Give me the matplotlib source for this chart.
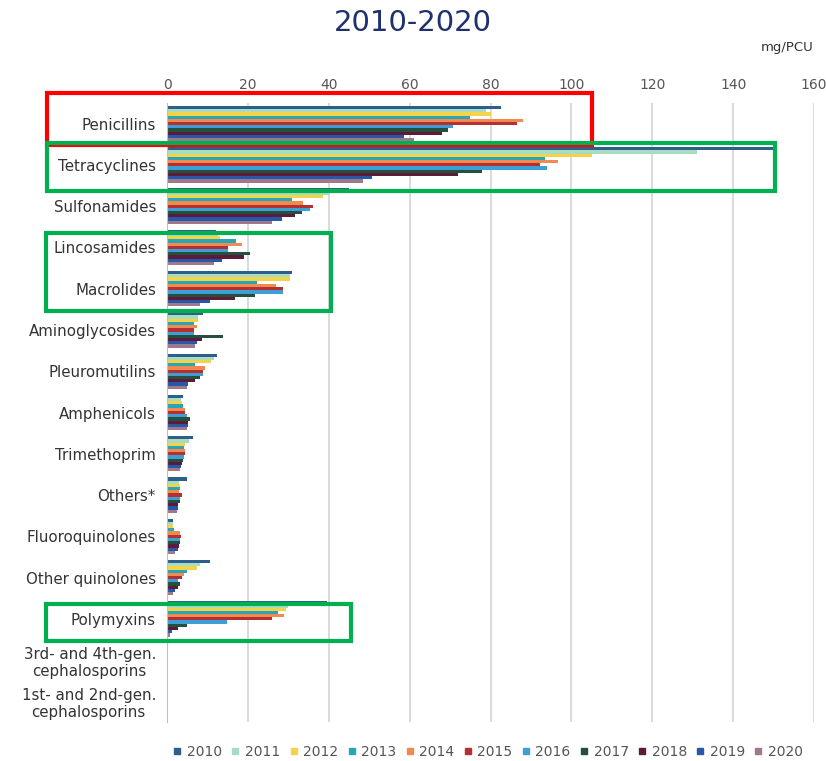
import matplotlib.pyplot as plt
import numpy as np
from matplotlib.patches import Rectangle
from matplotlib.lines import Line2D

# categories (top to bottom)
classes = ['Penicillins', 'Tetracyclines', 'Sulfonamides', 'Lincosamides', 'Macrolides',
           'Aminoglycosides', 'Pleuromutilins', 'Amphenicols', 'Trimethoprim', 'Others*',
           'Fluoroquinolones', 'Other quinolones', 'Polymyxins',
           '3rd- and 4th-gen.\ncephalosporins', '1st- and 2nd-gen.\ncephalosporins']
years = ['2010', '2011', '2012', '2013', '2014', '2015', '2016', '2017', '2018', '2019', '2020']
colors = ['#2e5f8a', '#a8dcc0', '#f3d34a', '#27a6b4', '#f08a50', '#b5302e',
          '#3d9fd6', '#24503e', '#5c1b3b', '#2657a8', '#a0788c']

# mg/PCU, one list per year, same order as classes
v2010 = [82.5, 150, 45, 12, 31, 9, 12.3, 4, 6.5, 4.9, 1.6, 10.6, 39.5, 0.3, 0.2]
v2011 = [79, 131, 40, 12.5, 30.4, 7.7, 11.5, 3.5, 5.5, 2.9, 1.4, 8.2, 30, 0.3, 0.2]
v2012 = [80, 105, 38.5, 13, 30.4, 7.7, 11, 3.8, 4.5, 3.2, 1.6, 7.5, 29.4, 0.3, 0.2]
v2013 = [75, 93.5, 31, 17, 22.2, 6.6, 7, 4, 4.3, 3.2, 1.8, 4.9, 27.5, 0.3, 0.2]
v2014 = [88, 96.7, 33.7, 18.5, 27, 7.3, 9.4, 4.5, 4.5, 2.9, 3.2, 4.2, 29, 0.3, 0.2]
v2015 = [86.5, 92.2, 36, 15, 28.6, 6.6, 9, 4.5, 4.5, 3.6, 3.4, 3.6, 26, 0.3, 0.2]
v2016 = [70.8, 94, 35.4, 15, 28.6, 6.6, 8.8, 4.9, 4.3, 3.2, 3.2, 2.7, 14.8, 0.3, 0.2]
v2017 = [69.5, 78, 33.4, 20.5, 21.8, 13.9, 8.2, 5.7, 4, 3.2, 3.2, 3.2, 4.9, 0.3, 0.2]
v2018 = [68, 72, 31.6, 19, 16.8, 8.6, 7, 5.3, 3.6, 2.7, 2.9, 2.7, 2.7, 0.3, 0.2]
v2019 = [58.5, 50.7, 28.4, 13.5, 10.6, 7.3, 5.3, 5.3, 3.4, 2.7, 2.7, 2, 1.2, 0.3, 0.2]
v2020 = [61, 48.5, 26, 11.5, 8.2, 7, 4.9, 4.9, 3.3, 2.4, 2, 1.6, 0.8, 0.3, 0.2]
values = [v2010, v2011, v2012, v2013, v2014, v2015, v2016, v2017, v2018, v2019, v2020]

fig = plt.figure(figsize=(8.26, 7.61), dpi=100)
ax = fig.add_axes([0.2022, 0.0512, 0.7833, 0.8135])

y = np.arange(len(classes))
h = 0.078
for j, (yr, vals, c) in enumerate(zip(years, values, colors)):
    ax.barh(y + (j - 5) * h, vals, height=h, color=c, label=yr)

ax.set_xlim(0, 160)
ax.set_ylim(len(classes) - 0.5, -0.5)
ax.set_xticks(np.arange(0, 161, 20))
ax.xaxis.tick_top()
ax.tick_params(axis='x', length=0, labelsize=10, colors='#555555', pad=8)
ax.tick_params(axis='y', length=0, labelsize=10.8, labelcolor='#333333', pad=8)
ax.set_yticks(y)
ax.set_yticklabels(classes, ha='right', multialignment='center')
ax.grid(axis='x', color='#d4d4d4', linewidth=1.2)
ax.set_axisbelow(True)
for s in ['top', 'right', 'bottom']:
    ax.spines[s].set_visible(False)
ax.spines['left'].set_color('#bfbfbf')

fig.text(0.5, 0.97, '2010-2020', ha='center', va='center', fontsize=21, color='#1f3070')
fig.text(0.985, 0.937, 'mg/PCU', ha='right', va='center', fontsize=9.5, color='#333333')

handles = [Line2D([], [], marker='s', linestyle='', color=c, markersize=5) for c in colors]
fig.legend(handles, years, loc='center', bbox_to_anchor=(0.59, 0.012), ncol=11, frameon=False,
           fontsize=10, handlelength=0.8, handletextpad=0.3, columnspacing=0.55,
           labelcolor='#555555')

# highlight boxes
boxes = [((47, 93, 592, 145), '#ff0000'),
         ((47, 143, 775, 191), '#00b050'),
         ((46, 233, 331, 311), '#00b050'),
         ((46, 604, 351, 641), '#00b050')]
W, H = 826, 761
for (x0, y0, x1, y1), c in boxes:
    fig.patches.append(Rectangle((x0 / W, 1 - y1 / H), (x1 - x0) / W, (y1 - y0) / H,
                                 transform=fig.transFigure, fill=False, edgecolor=c,
                                 linewidth=3, zorder=10))

fig.savefig('out.png', dpi=100)
